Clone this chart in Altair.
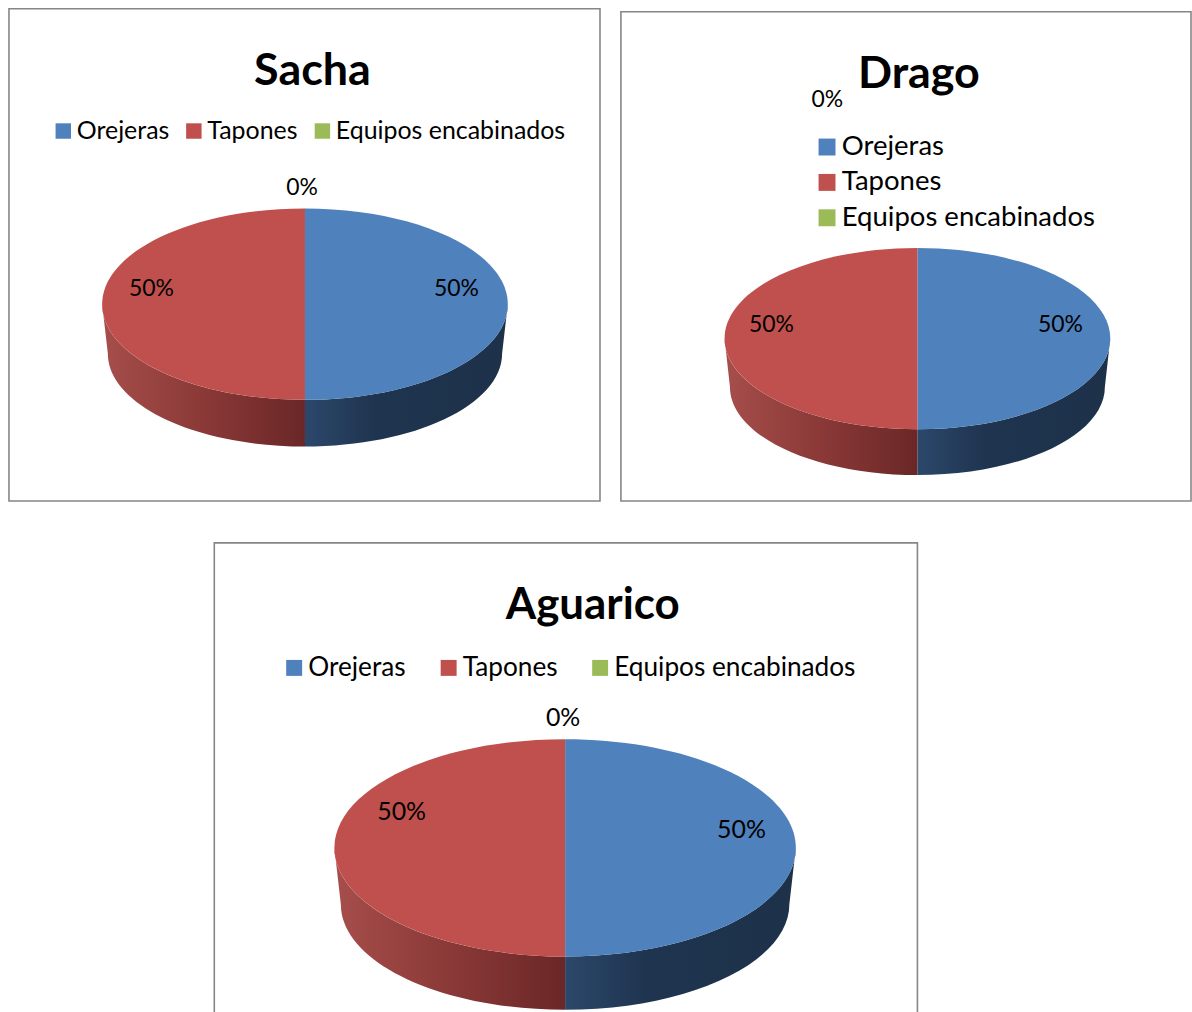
import math

import altair as alt
import pandas as pd

# Survey shares per hearing-protection type, in percent.
CATEGORIES = ["Orejeras", "Tapones", "Equipos encabinados"]
SACHA_VALUES = [50, 50, 0]
DRAGO_VALUES = [50, 50, 0]
AGUARICO_VALUES = [50, 50, 0]

TOP_COLORS = ["#4f81bd", "#c0504d", "#9bbb59"]
FRAME_COLOR = "#868686"
FONT = "Lato"

SIDE_GRADIENTS = {
    "Orejeras": [(0, "#2b486b"), (0.35, "#1f344f"), (1, "#1d3149")],
    "Tapones": [(0, "#a64e4b"), (0.5, "#8a3937"), (1, "#6a2727")],
}

PANELS = {
    "Sacha": dict(
        values=SACHA_VALUES, width=593, height=494,
        pie=(297, 296.5, 203.5, 96, 49.5),
        title_size=45, title_dx=8, title_offset=-86,
        legend=dict(x=42, y=110, size=25, columns=3, pad=12, row=0, symbol=240),
        label_size=23,
        labels=[(449, 281), (143, 281), (294, 180)],
    ),
    "Drago": dict(
        values=DRAGO_VALUES, width=572, height=491,
        pie=(297.5, 328, 193.5, 91, 48.5),
        title_size=45, title_dx=13, title_offset=-86,
        legend=dict(x=193, y=125, size=27.6, columns=1, pad=0, row=6.5, symbol=289),
        label_size=23,
        labels=[(441, 314), (151, 314), (207, 89)],
    ),
    "Aguarico": dict(
        values=AGUARICO_VALUES, width=705.5, height=480,
        pie=(352, 306, 231.5, 109, 56.5),
        title_size=44, title_dx=27, title_offset=-85,
        legend=dict(x=67, y=112, size=26.3, columns=3, pad=29, row=0, symbol=256),
        label_size=25,
        labels=[(529, 288), (188, 270), (350, 176)],
    ),
}


def point_on_ellipse(angle, rx, ry, dy=0.0):
    """Position at a clockwise angle measured from twelve o'clock."""
    return rx * math.sin(angle), dy - ry * math.cos(angle)


def wedge_path(start, end, ratio):
    """Top face of a slice as an SVG path in units of the major radius."""
    x0, y0 = point_on_ellipse(start, 1, ratio)
    x1, y1 = point_on_ellipse(end, 1, ratio)
    large = 1 if end - start > math.pi else 0
    return (
        f"M 0 0 L {x0:.4f} {y0:.4f} "
        f"A 1 {ratio:.4f} 0 {large} 1 {x1:.4f} {y1:.4f} Z"
    )


def side_path(start, end, ratio, drop):
    """Visible rim of a slice; the lower edge is slightly narrower."""
    inner = 0.972
    x0, y0 = point_on_ellipse(start, 1, ratio)
    x1, y1 = point_on_ellipse(end, 1, ratio)
    x2, y2 = point_on_ellipse(end, inner, ratio * inner, drop)
    x3, y3 = point_on_ellipse(start, inner, ratio * inner, drop)
    return (
        f"M {x0:.4f} {y0:.4f} A 1 {ratio:.4f} 0 0 1 {x1:.4f} {y1:.4f} "
        f"L {x2:.4f} {y2:.4f} "
        f"A {inner} {ratio * inner:.4f} 0 0 0 {x3:.4f} {y3:.4f} Z"
    )


def gradient(stops):
    return alt.Gradient(
        gradient="linear",
        stops=[alt.GradientStop(offset=o, color=c) for o, c in stops],
        x1=0, x2=1, y1=0, y2=0,
    )


def build_panel(name, spec):
    values = spec["values"]
    cx, cy, rx, ry, drop = spec["pie"]
    ratio = ry / rx
    total = sum(values)

    x = alt.X("x:Q", axis=None, scale=alt.Scale(domain=[0, spec["width"]], nice=False, zero=False))
    y = alt.Y("y:Q", axis=None, scale=alt.Scale(domain=[spec["height"], 0], nice=False, zero=False))
    anchor = pd.DataFrame({"x": [cx], "y": [cy]})

    layers = []
    tops = []
    turn = 0.0
    for category, value, color in zip(CATEGORIES, values, TOP_COLORS):
        start, end = turn, turn + 2 * math.pi * value / total
        turn = end
        if value == 0:
            continue
        common = dict(filled=True, opacity=1, size=(2 * rx) ** 2, strokeWidth=0)
        # Only the part of the slice facing the viewer shows a rim.
        rim_start = max(start, math.pi / 2)
        rim_end = min(end, 3 * math.pi / 2)
        if rim_end > rim_start:
            layers.append(
                alt.Chart(anchor)
                .mark_point(
                    shape=side_path(rim_start, rim_end, ratio, drop / rx),
                    fill=gradient(SIDE_GRADIENTS[category]),
                    **common,
                )
                .encode(x=x, y=y)
            )
        tops.append(
            alt.Chart(anchor)
            .mark_point(shape=wedge_path(start, end, ratio), fill=color, **common)
            .encode(x=x, y=y)
        )
    layers.extend(tops)

    lg = spec["legend"]
    labels = pd.DataFrame(
        {
            "category": CATEGORIES,
            "label": [f"{round(100 * v / total)}%" for v in values],
            "x": [p[0] for p in spec["labels"]],
            "y": [p[1] for p in spec["labels"]],
        }
    )
    # Invisible points carry the colour scale so the legend keeps all categories.
    layers.append(
        alt.Chart(labels)
        .mark_point(filled=True, opacity=0, shape="square")
        .encode(
            x=x,
            y=y,
            color=alt.Color(
                "category:N",
                scale=alt.Scale(domain=CATEGORIES, range=TOP_COLORS),
                sort=CATEGORIES,
                legend=alt.Legend(
                    title=None,
                    orient="none",
                    legendX=lg["x"],
                    legendY=lg["y"],
                    direction="horizontal" if lg["columns"] > 1 else "vertical",
                    columns=lg["columns"],
                    columnPadding=lg["pad"],
                    rowPadding=lg["row"],
                    symbolType="square",
                    symbolSize=lg["symbol"],
                    symbolOpacity=1,
                    symbolStrokeWidth=0,
                    labelFont=FONT,
                    labelFontSize=lg["size"],
                    labelColor="#000000",
                    labelOffset=1,
                    labelLimit=400,
                    padding=0,
                ),
            ),
        )
    )
    layers.append(
        alt.Chart(labels)
        .mark_text(font=FONT, fontSize=spec["label_size"], color="#000000", baseline="middle")
        .encode(x=x, y=y, text="label:N")
    )

    return alt.layer(*layers).properties(
        width=spec["width"],
        height=spec["height"],
        view=alt.ViewConfig(stroke=FRAME_COLOR, strokeWidth=1.6, fill="#ffffff"),
        title=alt.TitleParams(
            text=name,
            font=FONT,
            fontSize=spec["title_size"],
            fontWeight="bold",
            color="#000000",
            anchor="middle",
            dx=spec["title_dx"],
            offset=spec["title_offset"],
        ),
    )


def spacer(width, height):
    blank = pd.DataFrame({"x": [0], "y": [0]})
    return (
        alt.Chart(blank)
        .mark_point(opacity=0)
        .encode(x=alt.X("x:Q", axis=None), y=alt.Y("y:Q", axis=None))
        .properties(width=width, height=height, view=alt.ViewConfig(stroke=None))
    )


sacha = build_panel("Sacha", PANELS["Sacha"])
drago = build_panel("Drago", PANELS["Drago"])
aguarico = build_panel("Aguarico", PANELS["Aguarico"])

upper = alt.hconcat(
    sacha,
    alt.vconcat(spacer(1, 3), drago, spacing=0, bounds="flush"),
    spacing=21,
    bounds="flush",
).resolve_scale(color="independent")
lower = alt.hconcat(spacer(206, 1), aguarico, spacing=0, bounds="flush").resolve_scale(color="independent")

# Flush nested rows report almost no height, so the row gap spans the upper panels too.
chart = (
    alt.vconcat(upper, lower, spacing=536, bounds="flush")
    .resolve_scale(color="independent")
    .properties(padding={"left": 8, "top": 5, "right": 0, "bottom": 0}, background="#ffffff")
)

chart.save("out.html", embed_options={"renderer": "svg", "actions": False})
